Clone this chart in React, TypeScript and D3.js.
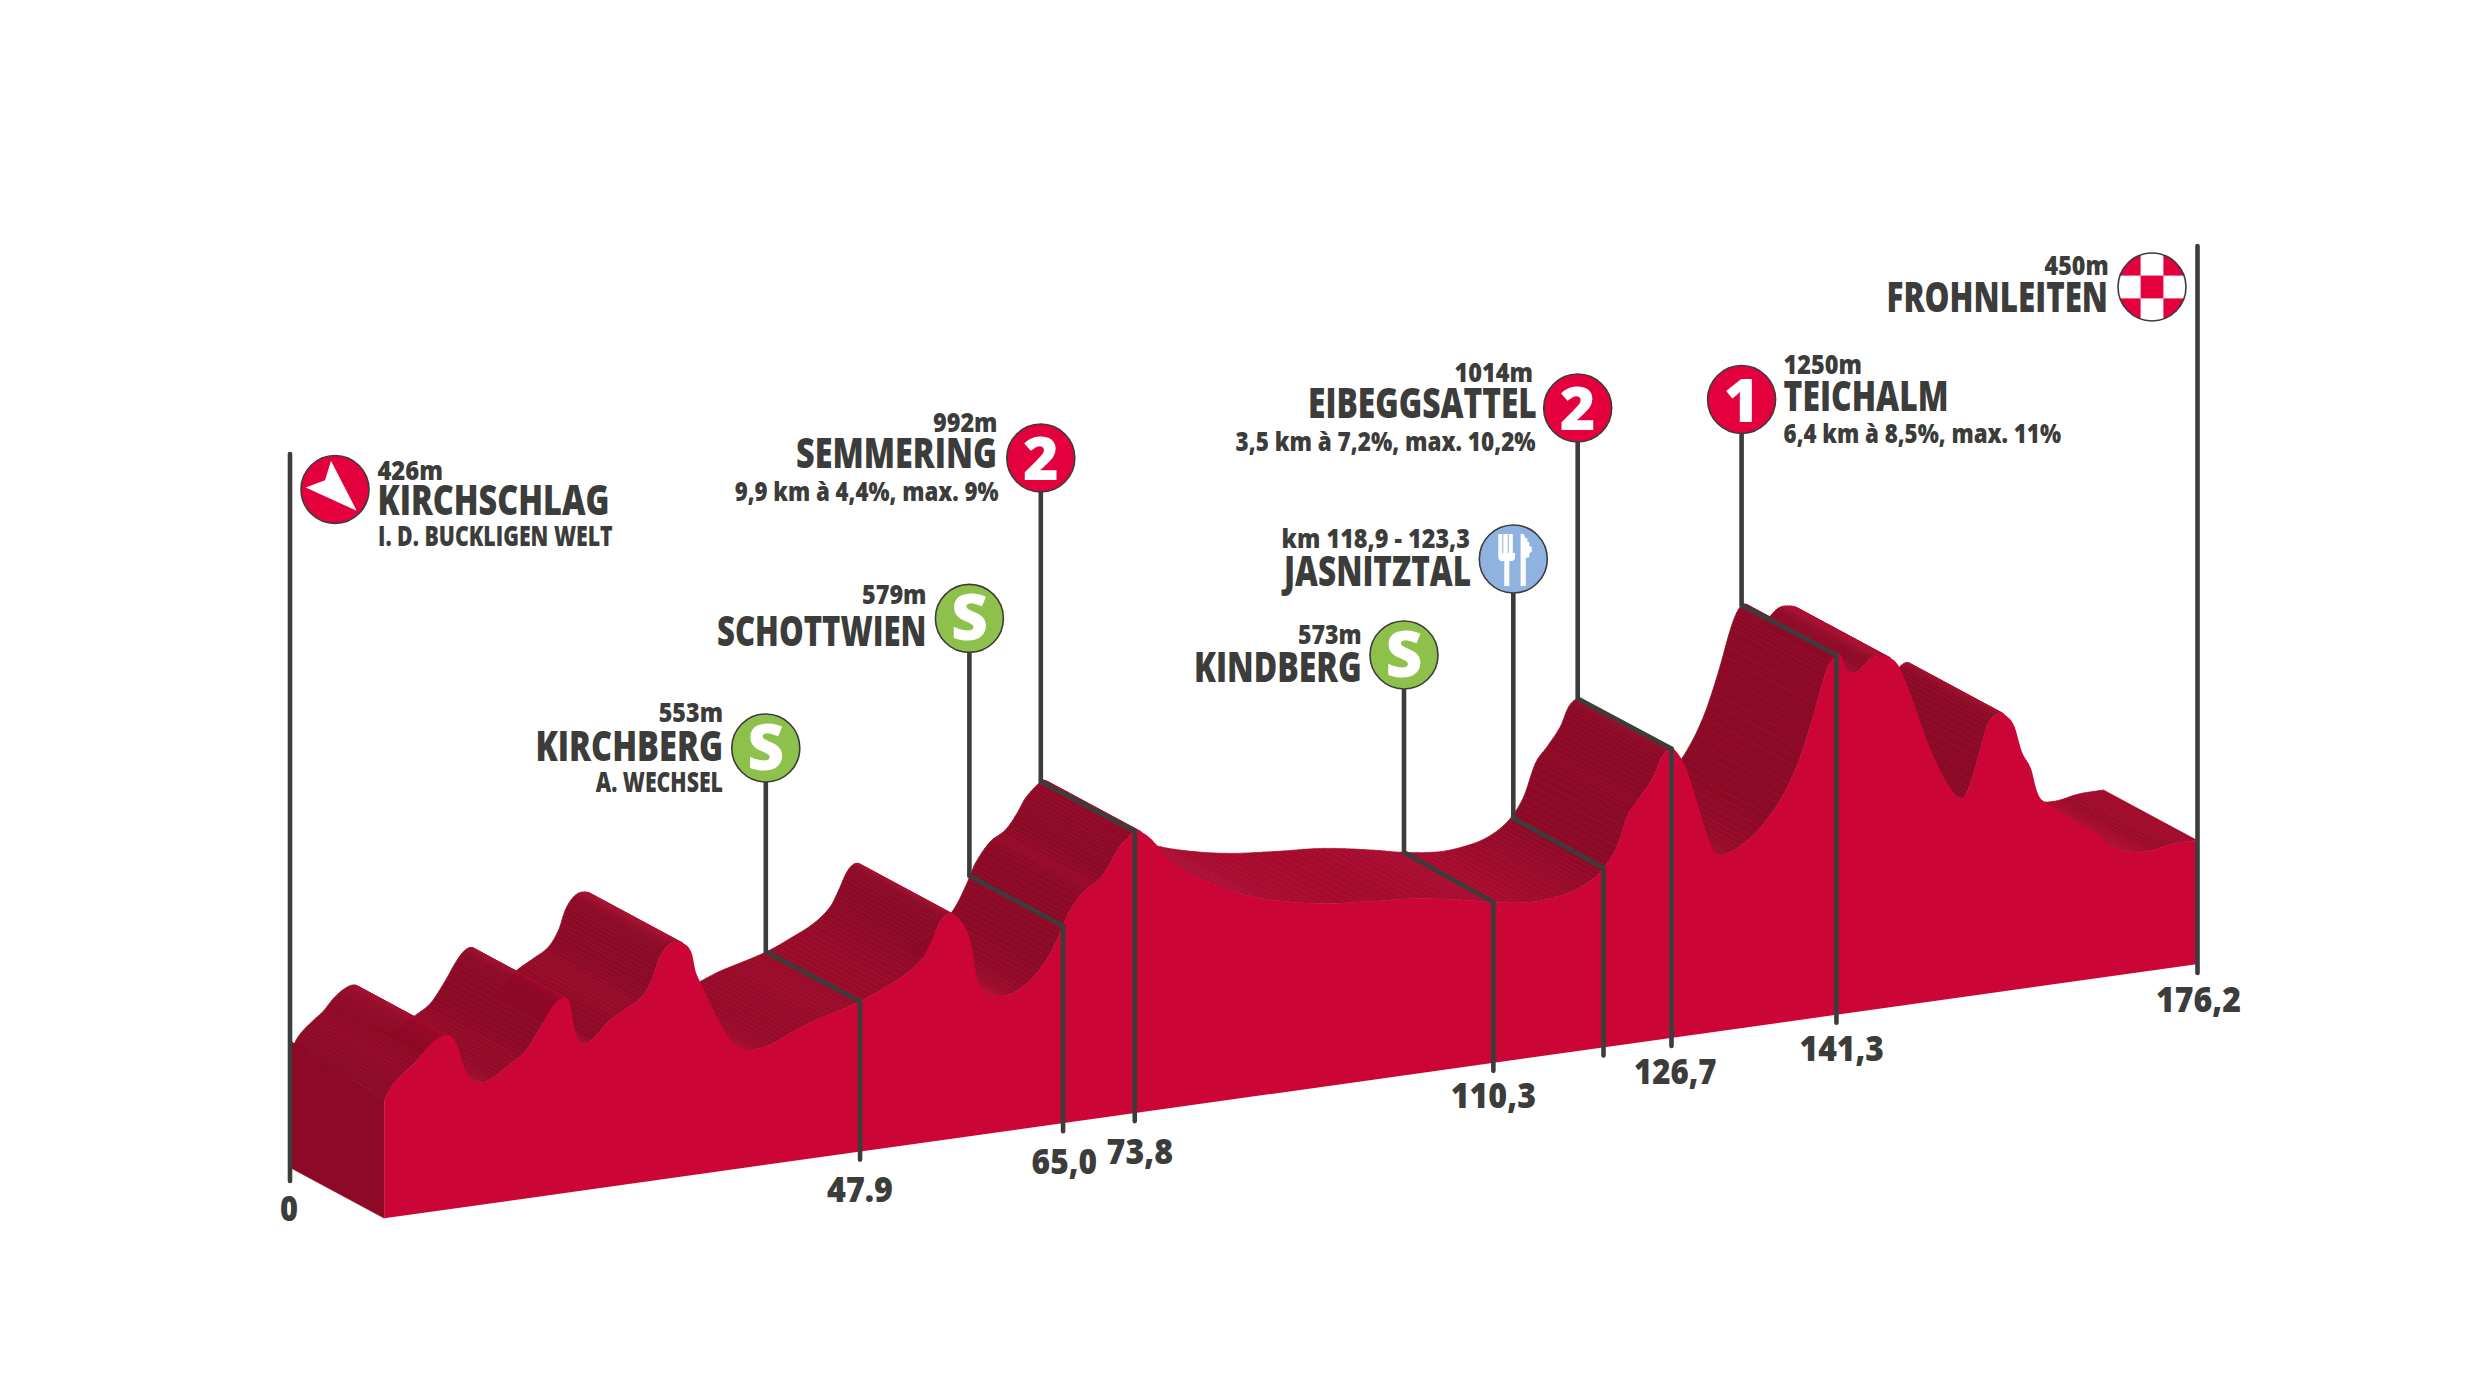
import React from "react";
import * as d3 from "d3";

const WIDTH = 2480;
const HEIGHT = 1385;

// Profile: distance (km) and altitude (m)
const profileKm = [
  0, 0.72, 1.85, 3.15, 4.12, 5.1, 6.07, 6.71, 7.2, 7.68, 8.33, 9.31, 10.44, 11.9, 13.52, 14.82, 16.11, 16.92, 17.57,
  18.06, 18.38, 18.81, 19.35, 20.17, 21.78, 23.57, 25.03, 26.0, 26.64, 27.46, 28.27, 29.24, 29.89, 30.28, 30.86, 31.99,
  33.45, 34.42, 35.56, 37.5, 39.45, 41.56, 43.99, 46.26, 48.52, 50.8, 52.41, 53.23, 54.04, 54.84, 55.66, 56.63, 57.12,
  57.6, 58.25, 59.87, 61.49, 63.11, 64.57, 65.7, 66.51, 67.97, 69.43, 70.57, 71.37, 72.68, 73.16, 74.29, 75.11, 76.4,
  78.34, 81.26, 82.56, 85.8, 90.66, 95.53, 100.39, 105.25, 107.84, 111.73, 114.98, 116.92, 118.53, 119.84, 120.96,
  122.1, 123.4, 124.21, 125.12, 125.64, 126.53, 127.4, 128.47, 129.35, 130.06, 131.48, 133.42, 135.54, 137.31, 138.73,
  139.96, 140.67, 141.26, 141.72, 142.08, 142.79, 143.5, 144.55, 145.44, 146.5, 147.38, 148.62, 149.86, 151.27, 152.51,
  153.39, 154.1, 155.16, 155.87, 156.93, 157.82, 158.52, 159.23, 160.11, 160.65, 161.17, 162.77, 164.54, 166.3, 168.07,
  169.84, 171.6, 173.73, 176.2,
];
const profileM = [
  425, 469, 507, 543, 581, 607, 617, 602, 566, 506, 458, 438, 447, 480, 517, 579, 652, 683, 688,
  666, 596, 543, 523, 530, 585, 622, 654, 707, 772, 813, 825, 813, 779, 714, 666, 575,
  476, 435, 420, 428, 458, 487, 510, 533, 567, 607, 656, 709, 768, 792, 777, 726, 667,
  562, 513, 485, 495, 535, 596, 671, 735, 802, 834, 886, 933, 978, 987, 959, 926, 868,
  813, 756, 730, 688, 650, 632, 619, 589, 569, 552, 564, 589, 632, 700, 808,
  859, 922, 986, 1010, 996, 940, 845, 714, 632, 621, 637, 684, 771, 887, 1029,
  1176, 1235, 1252, 1242, 1200, 1181, 1190, 1222, 1226, 1213, 1174, 1059, 928, 807, 727,
  697, 736, 856, 938, 975, 957, 919, 830, 769, 693, 656, 614, 565, 522, 462,
  436, 430, 443, 445,
];

// Stops and their wording
const markerKm = [46.26, 66.0, 72.97, 107.84, 118.55, 125.16, 141.2];
const markerLabels = ["47.9", "65,0", "73,8", "110,3", "", "126,7", "141,3"];
const markerBadges = ["S", "S", "2", "S", "fork", "2", "1"];
const totalKm = 176.2;

const COLORS = {
  front: "#cc0537",
  wallDark: "#8c0a25",
  ink: "#3c3c3b",
  red: "#e4003c",
  green: "#8dc14c",
  blue: "#8fb2e0",
};

const labelTexts = [
  "426m", "KIRCHSCHLAG", "I. D. BUCKLIGEN WELT",
  "553m", "KIRCHBERG", "A. WECHSEL",
  "579m", "SCHOTTWIEN",
  "992m", "SEMMERING", "9,9 km à 4,4%, max. 9%",
  "573m", "KINDBERG",
  "km 118,9 - 123,3", "JASNITZTAL",
  "1014m", "EIBEGGSATTEL", "3,5 km à 7,2%, max. 10,2%",
  "1250m", "TEICHALM", "6,4 km à 8,5%, max. 11%",
  "450m", "FROHNLEITEN",
];
// x, baseline, width, font size, one line per text above
const labelLayout = [
  [377.4, 480, 65.6, 26], [377.4, 515, 232, 42], [378, 545.5, 234.7, 29],
  [658.7, 721.8, 64.3, 26], [535.4, 761, 187.6, 42], [595.7, 792, 127.3, 29],
  [862, 604, 64.5, 26], [717, 646.4, 209.5, 42],
  [933, 431.6, 64.5, 26], [796, 468, 201, 42], [734.7, 500.5, 263.8, 26],
  [1298, 644.4, 63.7, 26], [1194, 682, 167.7, 42],
  [1281.6, 548, 188.4, 26], [1284, 586, 187, 42],
  [1454.5, 382, 78.5, 26], [1308, 418, 228.8, 42], [1235.6, 451, 300, 26],
  [1783.6, 373.7, 78.4, 26], [1783.6, 411, 164.9, 42], [1783.6, 442.8, 277.4, 26],
  [2044.6, 275, 64.1, 26], [1886.5, 312, 221.5, 42],
];
const tickLayout = [
  [827, 1202, 66], [1031.6, 1174, 65.4], [1106.6, 1163.8, 66.4], [1450.7, 1108, 85.3], null, [1634, 1084, 82.6], [1799.5, 1061, 84.5],
];
const badgeCenters = [
  [765.8, 748], [969.4, 618.4], [1040.8, 458], [1404, 655], [1513.3, 559], [1577.7, 408], [1741.6, 399.5],
];

// Scales
const x = d3.scaleLinear().domain([0, totalKm]).range([384.3, 2196.4]);
const base = d3.scaleLinear().domain([0, totalKm]).range([1218.3, 964.3]);
const h = d3.scaleLinear().domain([20, 1300]).range([0, 374.4]);
const DEPTH_X = 93;
const DEPTH_Y = 50;
const R = 34;
const FONT = "'Open Sans', 'Noto Sans', sans-serif";
const INK_W = 4.6;

type P = [number, number];
const frontKey: P[] = profileKm.map((k, i) => [x(k), base(k) - h(profileM[i])]);

// Smooth the drawn outline through the read points
function smooth(pts: P[], n = 5): P[] {
  const out: P[] = [pts[0]];
  for (let i = 0; i < pts.length - 1; i++) {
    const p0 = pts[Math.max(0, i - 1)], p1 = pts[i], p2 = pts[i + 1], p3 = pts[Math.min(pts.length - 1, i + 2)];
    const d = p2[0] - p1[0];
    const m1 = (p2[1] - p0[1]) / Math.max(1e-6, p2[0] - p0[0]);
    const m2 = (p3[1] - p1[1]) / Math.max(1e-6, p3[0] - p1[0]);
    for (let j = 1; j <= n; j++) {
      const t = j / n, t2 = t * t, t3 = t2 * t;
      const yy = (2 * t3 - 3 * t2 + 1) * p1[1] + (t3 - 2 * t2 + t) * d * m1 + (-2 * t3 + 3 * t2) * p2[1] + (t3 - t2) * d * m2;
      out.push([p1[0] + t * d, yy]);
    }
  }
  return out;
}
const front = smooth(frontKey);
const backOf = (p: P, i: number): P => [p[0] - DEPTH_X, p[1] - DEPTH_Y - (i === 0 ? 8 : 0)];

const wallColor = d3
  .scaleLinear<string>()
  .domain([-28, 0, 25, 55])
  .range(["#ad1238", "#a80b2e", "#990b2a", COLORS.wallDark])
  .clamp(true);

const line = d3.line<P>();

function altitudeY(km: number): number {
  const i = Math.min(profileKm.length - 2, Math.max(0, d3.bisectRight(profileKm, km) - 1));
  const t = (km - profileKm[i]) / (profileKm[i + 1] - profileKm[i]);
  return base(km) - h(profileM[i] + t * (profileM[i + 1] - profileM[i]));
}

function Walls() {
  const quads: React.ReactNode[] = [];
  for (let i = front.length - 2; i >= 0; i--) {
    const a = front[i], b = front[i + 1];
    const slope = (b[1] - a[1]) / (b[0] - a[0]);
    if (slope >= DEPTH_Y / DEPTH_X) continue;
    const c = wallColor((-Math.atan(slope) * 180) / Math.PI);
    quads.push(
      <path key={i} d={line([a, b, backOf(b, i + 1), backOf(a, i)])! + "Z"} fill={c} stroke={c} strokeWidth={0.7} strokeLinejoin="round" />
    );
  }
  return <g>{quads}</g>;
}

function Badge({ kind, cx, cy }: { kind: string; cx: number; cy: number }) {
  const fill = kind === "S" ? COLORS.green : kind === "fork" ? COLORS.blue : COLORS.red;
  return (
    <g transform={`translate(${cx},${cy})`}>
      <circle r={R} fill={fill} stroke={COLORS.ink} strokeWidth={1.6} />
      {kind === "fork" ? (
        <g fill="#fff">
          <path d="M-15,-25H-11V-6H-10V-25H-5.5V-6H-4.5V-25H-0.5V-6H1.7V-1Q1.7,1 -1,2H-4V27H-9V2H-12Q-15,1 -15,-2Z" />
          <path d="M7.3,-25H10.5L12,-21H14V-17.5L16,-17V-13L18.5,-12V-7L16,-6V-2L12.5,-1V27H7.3Z" />
        </g>
      ) : (
        <text x={0} y={22} textAnchor="middle" fontFamily={FONT} fontWeight={800} fontSize={kind === "S" ? 64 : 61} fill="#fff">
          {kind}
        </text>
      )}
    </g>
  );
}

function Label({ text, at }: { text: string; at: number[] }) {
  return (
    <text
      x={at[0]}
      y={at[1]}
      fontFamily={FONT}
      fontWeight={800}
      fontSize={at[3]}
      fill={COLORS.ink}
      textLength={at[2]}
      lengthAdjust="spacingAndGlyphs"
    >
      {text}
    </text>
  );
}

export default function App() {
  const bottomLeft: P = [x(0), base(0)];
  const bottomRight: P = [x(totalKm), base(totalKm)];
  const facePath = line([...front, bottomRight, bottomLeft])! + "Z";
  const sideWall = line([front[0], backOf(front[0], 0), [x(0) - DEPTH_X, base(0) - DEPTH_Y], bottomLeft])! + "Z";

  const clipId = "finish-clip";
  const cell = 22.8;
  return (
    <svg
      width={WIDTH}
      height={HEIGHT}
      viewBox={`0 0 ${WIDTH} ${HEIGHT}`}
      style={{ position: "absolute", left: 0, top: 0, background: "#fff" }}
    >
      <Walls />
      <path d={sideWall} fill={COLORS.wallDark} stroke={COLORS.wallDark} strokeWidth={0.5} />
      <path d={facePath} fill={COLORS.front} />

      {/* Start and finish posts */}
      <line x1={290} x2={290} y1={454} y2={1181} stroke={COLORS.ink} strokeWidth={INK_W} strokeLinecap="round" />
      <line x1={2197.5} x2={2197.5} y1={246} y2={973} stroke={COLORS.ink} strokeWidth={INK_W} strokeLinecap="round" />

      {/* Stops */}
      {markerKm.map((km, i) => {
        const fx = x(km);
        const fy = altitudeY(km);
        const by = fy - DEPTH_Y;
        const [cx, cy] = badgeCenters[i];
        const drop = base(km) + 8;
        const pts: P[] = [[cx, cy], [cx, by], [fx, fy], [fx, drop]];
        return (
          <g key={km}>
            <path d={line(pts)!} fill="none" stroke={COLORS.ink} strokeWidth={INK_W} strokeLinejoin="miter" strokeLinecap="round" />
            <Badge kind={markerBadges[i]} cx={cx} cy={cy} />
            {tickLayout[i] && (
              <text
                x={tickLayout[i]![0]}
                y={tickLayout[i]![1]}
                fontFamily={FONT}
                fontWeight={800}
                fontSize={35}
                fill={COLORS.ink}
                textLength={tickLayout[i]![2]}
                lengthAdjust="spacingAndGlyphs"
              >
                {markerLabels[i]}
              </text>
            )}
          </g>
        );
      })}

      {/* Start badge */}
      <g transform="translate(335,489.5)">
        <circle r={R} fill={COLORS.red} stroke={COLORS.ink} strokeWidth={1.6} />
        <path d="M-4,-28.7L21.7,21.3L-29.3,-2L-10,-9.3Z" fill="#fff" />
      </g>

      {/* Finish badge */}
      <g transform="translate(2152,287)">
        <clipPath id={clipId}>
          <circle r={R} />
        </clipPath>
        <circle r={R} fill="#fff" />
        <g clipPath={`url(#${clipId})`} fill={COLORS.red}>
          {[[-1.5, -1.5], [0.5, -1.5], [-0.5, -0.5], [-1.5, 0.5], [0.5, 0.5]].map(([a, b], i) => (
            <rect key={i} x={a * cell} y={b * cell} width={cell} height={cell} />
          ))}
        </g>
        <circle r={R} fill="none" stroke={COLORS.ink} strokeWidth={1.6} />
      </g>

      {labelTexts.map((t, i) => (
        <Label key={t} text={t} at={labelLayout[i]} />
      ))}
      <text x={280} y={1221} fontFamily={FONT} fontWeight={800} fontSize={35} fill={COLORS.ink} textLength={18} lengthAdjust="spacingAndGlyphs">
        0
      </text>
      <text x={2156} y={1011.7} fontFamily={FONT} fontWeight={800} fontSize={35} fill={COLORS.ink} textLength={85} lengthAdjust="spacingAndGlyphs">
        176,2
      </text>
    </svg>
  );
}
